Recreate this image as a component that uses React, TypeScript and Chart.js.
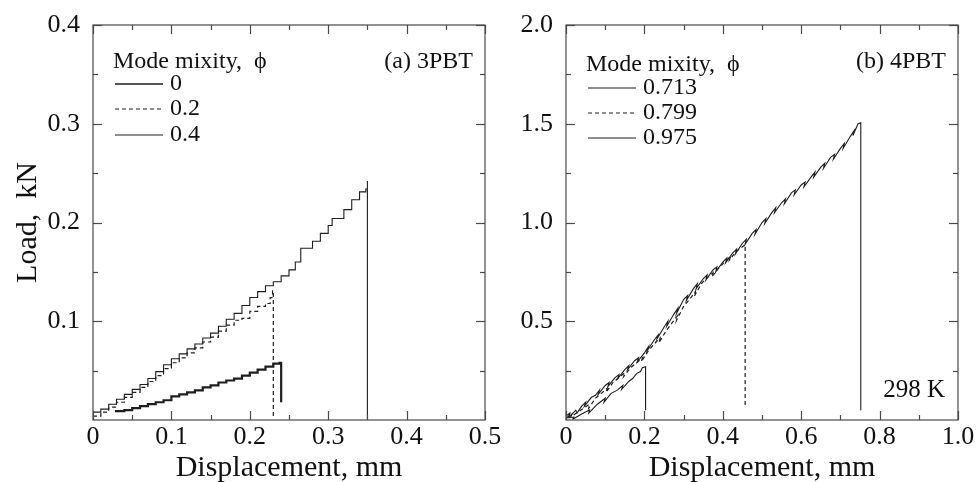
import React, { useEffect, useRef } from 'react';
import { Chart, registerables } from 'chart.js';

Chart.register(...registerables);

const FONT = "'Liberation Serif', 'Times New Roman', Times, serif";
const INK = '#1e1e1e';

// ---------------- Panel (a) 3PBT ----------------
const aXTicks = [0, 0.1, 0.2, 0.3, 0.4, 0.5];
const aXMinor = [0.05, 0.15, 0.25, 0.35, 0.45];
const aYTicks = [0.1, 0.2, 0.3, 0.4];
const aYMinor = [0.05, 0.15, 0.25, 0.35];
const aLegendLabels = ['0', '0.2', '0.4'];

// phi = 0
const a0X = [0.028, 0.04, 0.05, 0.06, 0.07, 0.08, 0.09, 0.1, 0.11, 0.12, 0.13, 0.14, 0.15, 0.16, 0.17, 0.18, 0.19, 0.2, 0.21, 0.22, 0.23, 0.238, 0.24, 0.24];
const a0Y = [0.009, 0.01, 0.012, 0.014, 0.016, 0.018, 0.02, 0.024, 0.026, 0.028, 0.03, 0.033, 0.035, 0.038, 0.04, 0.042, 0.045, 0.048, 0.051, 0.054, 0.057, 0.058, 0.057, 0.018];
// phi = 0.2
const a1X = [0, 0.01, 0.02, 0.03, 0.04, 0.05, 0.06, 0.07, 0.08, 0.09, 0.1, 0.11, 0.12, 0.13, 0.14, 0.15, 0.16, 0.17, 0.18, 0.19, 0.2, 0.21, 0.22, 0.226, 0.229, 0.23, 0.23];
const a1Y = [0.004, 0.008, 0.013, 0.018, 0.023, 0.028, 0.033, 0.039, 0.045, 0.052, 0.058, 0.063, 0.068, 0.073, 0.079, 0.084, 0.09, 0.096, 0.101, 0.103, 0.11, 0.115, 0.118, 0.124, 0.131, 0.131, 0.002];
// phi = 0.4
const a2X = [0, 0.01, 0.02, 0.03, 0.04, 0.05, 0.06, 0.07, 0.08, 0.09, 0.1, 0.11, 0.12, 0.13, 0.14, 0.15, 0.16, 0.17, 0.18, 0.19, 0.2, 0.21, 0.22, 0.23, 0.24, 0.25, 0.258, 0.265, 0.28, 0.29, 0.3, 0.305, 0.32, 0.33, 0.34, 0.348, 0.35, 0.35];
const a2Y = [0.008, 0.011, 0.016, 0.021, 0.026, 0.031, 0.036, 0.042, 0.049, 0.056, 0.062, 0.067, 0.072, 0.077, 0.083, 0.088, 0.095, 0.102, 0.108, 0.116, 0.124, 0.13, 0.136, 0.14, 0.146, 0.152, 0.16, 0.174, 0.181, 0.189, 0.197, 0.204, 0.213, 0.223, 0.231, 0.234, 0.242, 0];

// ---------------- Panel (b) 4PBT ----------------
const bXTicks = [0, 0.2, 0.4, 0.6, 0.8, 1.0];
const bXMinor = [0.1, 0.3, 0.5, 0.7, 0.9];
const bYTicks = [0.5, 1.0, 1.5, 2.0];
const bYMinor = [0.25, 0.75, 1.25, 1.75];
const bLegendLabels = ['0.713', '0.799', '0.975'];

// phi = 0.713
const b0X = [0, 0.02, 0.018, 0.04, 0.06, 0.058, 0.08, 0.1, 0.097, 0.115, 0.13, 0.145, 0.142, 0.16, 0.17, 0.18, 0.19, 0.195, 0.203, 0.203];
const b0Y = [0.01, 0.015, 0.005, 0.03, 0.05, 0.035, 0.08, 0.11, 0.09, 0.135, 0.15, 0.175, 0.155, 0.195, 0.21, 0.235, 0.245, 0.265, 0.27, 0.05];
// phi = 0.799
const b1X = [0, 0.015, 0.012, 0.03, 0.045, 0.06, 0.058, 0.075, 0.09, 0.105, 0.102, 0.12, 0.135, 0.15, 0.147, 0.165, 0.18, 0.195, 0.192, 0.21, 0.225, 0.24, 0.237, 0.255, 0.27, 0.285, 0.282, 0.3, 0.315, 0.33, 0.327, 0.345, 0.36, 0.375, 0.372, 0.39, 0.405, 0.42, 0.417, 0.435, 0.445, 0.452, 0.457, 0.457];
const b1Y = [0.01, 0.03, 0.015, 0.04, 0.06, 0.08, 0.06, 0.11, 0.135, 0.16, 0.14, 0.19, 0.215, 0.24, 0.22, 0.265, 0.29, 0.315, 0.295, 0.35, 0.385, 0.415, 0.39, 0.45, 0.49, 0.53, 0.505, 0.575, 0.61, 0.65, 0.625, 0.69, 0.72, 0.745, 0.725, 0.77, 0.8, 0.83, 0.81, 0.855, 0.87, 0.88, 0.888, 0.067];
// phi = 0.975
const b2X = [0, 0.01, 0.008, 0.025, 0.028, 0.04, 0.05, 0.047, 0.065, 0.075, 0.085, 0.082, 0.1, 0.11, 0.107, 0.125, 0.135, 0.132, 0.15, 0.16, 0.157, 0.175, 0.185, 0.182, 0.2, 0.21, 0.207, 0.225, 0.235, 0.232, 0.25, 0.26, 0.257, 0.275, 0.285, 0.282, 0.3, 0.31, 0.307, 0.325, 0.335, 0.332, 0.35, 0.36, 0.357, 0.375, 0.385, 0.382, 0.4, 0.41, 0.407, 0.425, 0.435, 0.432, 0.45, 0.46, 0.457, 0.475, 0.485, 0.482, 0.5, 0.51, 0.507, 0.525, 0.535, 0.532, 0.55, 0.56, 0.557, 0.575, 0.585, 0.582, 0.6, 0.61, 0.607, 0.625, 0.635, 0.632, 0.65, 0.66, 0.657, 0.675, 0.685, 0.682, 0.7, 0.71, 0.707, 0.725, 0.735, 0.732, 0.745, 0.752, 0.752];
const b2Y = [0.02, 0.035, 0.015, 0.05, 0.035, 0.07, 0.09, 0.07, 0.115, 0.125, 0.15, 0.13, 0.175, 0.19, 0.17, 0.215, 0.23, 0.21, 0.255, 0.275, 0.255, 0.3, 0.315, 0.295, 0.34, 0.37, 0.35, 0.405, 0.43, 0.41, 0.47, 0.5, 0.475, 0.535, 0.565, 0.54, 0.61, 0.63, 0.605, 0.665, 0.69, 0.665, 0.715, 0.735, 0.71, 0.76, 0.775, 0.75, 0.8, 0.82, 0.795, 0.845, 0.865, 0.84, 0.895, 0.915, 0.89, 0.945, 0.965, 0.94, 1.0, 1.02, 0.995, 1.05, 1.075, 1.05, 1.1, 1.12, 1.095, 1.15, 1.165, 1.14, 1.19, 1.205, 1.18, 1.23, 1.255, 1.23, 1.28, 1.3, 1.275, 1.33, 1.345, 1.32, 1.375, 1.4, 1.375, 1.435, 1.465, 1.44, 1.5, 1.505, 0.05];

const pts = (xs: number[], ys: number[]) => xs.map((x, i) => ({ x, y: ys[i] }));

const framePlugin = {
  id: 'frame',
  afterDatasetsDraw(chart: any, _args: any, o: any) {
    const { ctx, chartArea } = chart;
    const { left, right, top, bottom } = chartArea;
    const xs = chart.scales.x;
    const ys = chart.scales.y;
    ctx.save();
    ctx.strokeStyle = '#4a4a4a';
    ctx.lineWidth = 1.2;
    ctx.setLineDash([]);
    ctx.strokeRect(left, top, right - left, bottom - top);
    const seg = (x1: number, y1: number, x2: number, y2: number) => {
      ctx.beginPath();
      ctx.moveTo(x1, y1);
      ctx.lineTo(x2, y2);
      ctx.stroke();
    };
    const xt = (vals: number[], len: number) =>
      vals.forEach((v) => {
        const p = Math.round(xs.getPixelForValue(v)) + 0.5;
        seg(p, bottom, p, bottom - len);
        seg(p, top, p, top + len);
      });
    const yt = (vals: number[], len: number) =>
      vals.forEach((v) => {
        const p = Math.round(ys.getPixelForValue(v)) + 0.5;
        seg(left, p, left + len, p);
        seg(right, p, right - len, p);
      });
    xt(o.xMajor, 9);
    xt(o.xMinor, 5);
    yt(o.yMajor, 9);
    yt(o.yMinor, 5);

    // legend
    ctx.fillStyle = '#111';
    ctx.font = `24px ${FONT}`;
    ctx.textBaseline = 'middle';
    ctx.textAlign = 'left';
    ctx.fillText('Mode mixity,  \u03D5', left + 20, top + o.titleDy);
    const dashes = [[], [4, 3], []];
    const widths = [o.firstWidth, 1.1, 1.1];
    o.labels.forEach((lab: string, i: number) => {
      const yy = top + o.rowDy[i];
      ctx.strokeStyle = INK;
      ctx.lineWidth = widths[i];
      ctx.setLineDash(dashes[i]);
      seg(left + 22, yy, left + 70, yy);
      ctx.setLineDash([]);
      ctx.fillText(lab, left + 77, yy);
    });
    ctx.textAlign = 'right';
    ctx.fillText(o.tag, right - 12, top + 37);
    if (o.note) {
      ctx.font = `25px ${FONT}`;
      ctx.fillText(o.note, right - 13, bottom - 30);
    }
    ctx.restore();
  },
};

function makeConfig(p: any) {
  return {
    type: 'line',
    data: {
      datasets: p.series.map((s: any) => ({
        data: s.data,
        borderColor: INK,
        borderWidth: s.width,
        borderDash: s.dash,
        pointRadius: 0,
        fill: false,
        stepped: s.stepped,
        tension: 0,
      })),
    },
    options: {
      responsive: false,
      maintainAspectRatio: false,
      animation: false,
      devicePixelRatio: 1,
      layout: { padding: { top: 25, right: p.padRight, left: 0, bottom: 0 } },
      plugins: {
        legend: { display: false },
        tooltip: { enabled: false },
        frame: p.frame,
      },
      scales: {
        x: {
          type: 'linear',
          min: p.xMin,
          max: p.xMax,
          grid: { display: false },
          border: { display: false },
          afterBuildTicks: (s: any) => {
            s.ticks = p.xTicks.map((v: number) => ({ value: v }));
          },
          afterFit: (s: any) => {
            s.height = 62;
          },
          ticks: {
            color: '#111',
            font: { family: FONT, size: 26 },
            padding: -6,
            maxRotation: 0,
            autoSkip: false,
            callback: (v: number) => (v === 0 ? '0' : v.toFixed(1)),
          },
          title: {
            display: true,
            text: 'Displacement, mm',
            color: '#111',
            font: { family: FONT, size: 30 },
            padding: { top: 0, bottom: -4 },
          },
        },
        y: {
          type: 'linear',
          min: 0,
          max: p.yMax,
          grid: { display: false },
          border: { display: false },
          afterBuildTicks: (s: any) => {
            s.ticks = p.yTicks.map((v: number) => ({ value: v }));
          },
          afterFit: (s: any) => {
            s.width = p.yWidth;
          },
          ticks: {
            color: '#111',
            font: { family: FONT, size: 26 },
            padding: 5,
            autoSkip: false,
            callback: (v: number) => v.toFixed(1),
          },
          title: {
            display: p.yTitle,
            text: 'Load,  kN',
            color: '#111',
            font: { family: FONT, size: 30 },
            padding: { top: 10, bottom: 0 },
          },
        },
      },
    },
    plugins: [framePlugin],
  };
}

function Panel({ cfg, left, width }: { cfg: any; left: number; width: number }) {
  const ref = useRef<HTMLCanvasElement | null>(null);
  useEffect(() => {
    if (!ref.current) return;
    const chart = new Chart(ref.current, makeConfig(cfg) as any);
    return () => chart.destroy();
  }, []);
  return (
    <div style={{ position: 'absolute', left, top: 0, width, height: 482 }}>
      <canvas ref={ref} width={width} height={482} style={{ width, height: 482, display: 'block' }} />
    </div>
  );
}

const panelA = {
  xMin: 0,
  xMax: 0.5,
  yMax: 0.4,
  xTicks: aXTicks,
  yTicks: aYTicks,
  yWidth: 93,
  yTitle: true,
  padRight: 25,
  series: [
    { data: pts(a0X, a0Y), width: 2.2, dash: [], stepped: true },
    { data: pts(a1X, a1Y), width: 1.2, dash: [4, 3], stepped: true },
    { data: pts(a2X, a2Y), width: 1.1, dash: [], stepped: true },
  ],
  frame: {
    xMajor: aXTicks,
    xMinor: aXMinor,
    yMajor: aYTicks,
    yMinor: aYMinor,
    labels: aLegendLabels,
    firstWidth: 1.4,
    titleDy: 37,
    rowDy: [59, 84, 110],
    tag: '(a) 3PBT',
    note: '',
  },
};

const panelB = {
  xMin: 0,
  xMax: 1.0,
  yMax: 2.0,
  xTicks: bXTicks,
  yTicks: bYTicks,
  yWidth: 76,
  yTitle: false,
  padRight: 19,
  series: [
    { data: pts(b0X, b0Y), width: 1.1, dash: [], stepped: false },
    { data: pts(b1X, b1Y), width: 1.2, dash: [4, 3], stepped: false },
    { data: pts(b2X, b2Y), width: 1.1, dash: [], stepped: false },
  ],
  frame: {
    xMajor: bXTicks,
    xMinor: bXMinor,
    yMajor: bYTicks,
    yMinor: bYMinor,
    labels: bLegendLabels,
    firstWidth: 1.2,
    titleDy: 40,
    rowDy: [63, 88, 113],
    tag: '(b) 4PBT',
    note: '298 K',
  },
};

export default function App() {
  return (
    <div style={{ position: 'absolute', left: 0, top: 0, width: 977, height: 482, background: '#fff', overflow: 'hidden' }}>
      <Panel cfg={panelA} left={0} width={510} />
      <Panel cfg={panelB} left={490} width={487} />
    </div>
  );
}
